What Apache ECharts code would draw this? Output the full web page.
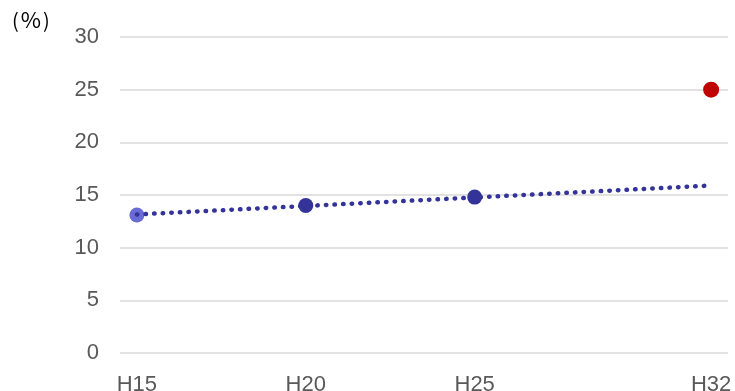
<!DOCTYPE html>
<html>
<head>
<meta charset="utf-8">
<script src="https://cdn.jsdelivr.net/npm/echarts@6/dist/echarts.min.js"></script>
<style>
  html, body { margin: 0; padding: 0; background: #fff; }
  #chart { width: 735px; height: 391px; }
</style>
</head>
<body>
<div id="chart"></div>
<script>
// Survey years (Heisei era) and their labels
const years = [15, 20, 25];
const yearLabels = ['H15', 'H20', 'H25', 'H32'];
const labelYears = [15, 20, 25, 32];
// Measured share (%) per survey year
const rates = [13.1, 14.0, 14.8];
// Target for H32
const targetYear = 32;
const targetRate = 25;
// Linear trend drawn through the measured points
const trendYears = [15, 32];
const trendRates = [13.15, 15.9];
// Y axis ticks
const yMin = 0, yMax = 30, yStep = 5;

const font = 'Liberation Sans, Arial, sans-serif';
const labelColor = '#595959';
const unitFont = '"Noto Sans CJK JP", sans-serif';

const chart = echarts.init(document.getElementById('chart'), null, { renderer: 'canvas' });

chart.setOption({
  animation: false,
  backgroundColor: '#fff',
  grid: { left: 120, right: 7, top: 37, bottom: 38, containLabel: false, outerBoundsMode: 'none' },
  graphic: [{
    type: 'text', left: 12, top: 9,
    style: {
      text: '{p|(}{q|%}{p|)}',
      fill: '#000',
      rich: {
        p: { fontSize: 20, fontFamily: unitFont, fill: '#000' },
        q: { fontSize: 22, fontFamily: unitFont, fill: '#000', padding: [0, 2, 0, 2] }
      }
    }
  }],
  xAxis: {
    type: 'value', min: 14.5, max: 32.5,
    axisLine: { show: false }, axisTick: { show: false }, splitLine: { show: false },
    axisLabel: {
      customValues: labelYears,
      formatter: v => yearLabels[labelYears.indexOf(v)] || '',
      color: labelColor, fontSize: 22, fontFamily: font, margin: 21
    }
  },
  yAxis: {
    type: 'value', min: yMin, max: yMax, interval: yStep,
    axisLine: { show: false }, axisTick: { show: false },
    splitLine: { lineStyle: { color: '#d9d9d9', width: 1.5 } },
    axisLabel: { color: labelColor, fontSize: 22, fontFamily: font, margin: 21 }
  },
  series: [
    {
      type: 'scatter', symbolSize: 15, z: 2,
      data: years.map((y, i) => ({
        value: [y, rates[i]],
        itemStyle: { color: i === 0 ? '#6b6bd6' : '#333399', opacity: 1 }
      }))
    },
    {
      type: 'scatter', symbolSize: 16, z: 2,
      itemStyle: { color: '#c00000', opacity: 1 },
      data: [[targetYear, targetRate]]
    },
    {
      type: 'line', z: 3, symbol: 'none',
      lineStyle: { color: '#333399', width: 4.5, type: [0.5, 8.1], cap: 'round' },
      data: trendYears.map((y, i) => [y, trendRates[i]])
    }
  ]
});
</script>
</body>
</html>
